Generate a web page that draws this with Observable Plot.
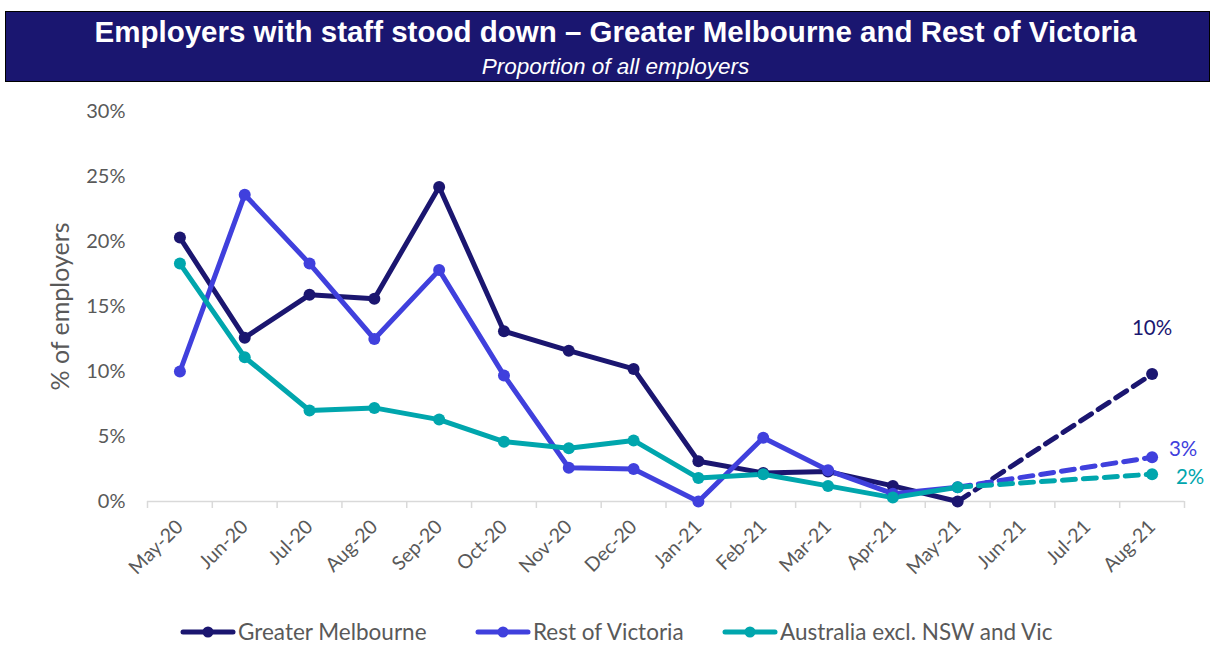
<!DOCTYPE html>
<html><head><meta charset="utf-8">
<script src="https://cdn.jsdelivr.net/npm/d3@7"></script>
<script src="https://cdn.jsdelivr.net/npm/@observablehq/plot@0.6"></script>
<style>
body{margin:0;background:#fff;width:1215px;height:651px;overflow:hidden;position:relative;font-family:Lato,"Open Sans",sans-serif;}
#title{position:absolute;left:5px;top:11px;width:1205px;height:71px;background:#1a1670;border:1px solid #000;box-sizing:border-box;color:#fff;text-align:center;font-family:"Liberation Sans",Arial,sans-serif;}
#title .t{font-weight:bold;font-size:29.5px;line-height:29px;position:absolute;left:16px;right:0;top:5px;white-space:nowrap;}
#title .s{font-style:italic;font-size:22.5px;line-height:22px;position:absolute;left:16px;right:0;top:44px;}
#chart{position:absolute;left:0;top:90px;}
.leg{position:absolute;top:618px;display:flex;align-items:center;font-size:22.5px;color:#595959;}
.leg svg{margin-right:2px;}
</style>
</head><body>
<div id="title"><div class="t">Employers with staff stood down – Greater Melbourne and Rest of Victoria</div><div class="s">Proportion of all employers</div></div>
<div id="chart"></div>
<div id="legend"></div>
<script>
const months = ["May-20","Jun-20","Jul-20","Aug-20","Sep-20","Oct-20","Nov-20","Dec-20","Jan-21","Feb-21","Mar-21","Apr-21","May-21","Jun-21","Jul-21","Aug-21"];
const seriesNames = ["Greater Melbourne","Rest of Victoria","Australia excl. NSW and Vic"];
const seriesColors = ["#1b1670","#4040dd","#00a6ad"];
const melbourne = [20.3,12.6,15.9,15.6,24.2,13.1,11.6,10.2,3.1,2.2,2.3,1.2,0.0,null,null,9.8];
const restVic   = [10.0,23.6,18.3,12.5,17.8,9.7,2.6,2.5,0.0,4.9,2.4,0.6,1.1,null,null,3.4];
const ausExcl   = [18.3,11.1,7.0,7.2,6.3,4.6,4.1,4.7,1.8,2.1,1.2,0.3,1.1,null,null,2.1];
const endLabels = ["10%","3%","2%"];
const yTicks = [0,5,10,15,20,25,30];
const actualEnd = "May-21";
const forecastMonth = "Aug-21";

const allValues = [melbourne, restVic, ausExcl];
const solid = [], dashed = [], dots = [], ends = [];
const cutIdx = months.indexOf(actualEnd);
allValues.forEach((vals, s) => {
  vals.forEach((v, i) => {
    if (v == null) return;
    const row = {series: seriesNames[s], month: months[i], value: v};
    if (i <= cutIdx) solid.push(row);
    if (i >= cutIdx) dashed.push(row);
    dots.push(row);
    if (months[i] === forecastMonth) ends.push({...row, label: endLabels[s]});
  });
});

const W = 1215, mL = 147, mR = 31;
const step = (W - mL - mR) / months.length;
const color = {domain: seriesNames, range: seriesColors};

const plot = Plot.plot({
  width: W, height: 511,
  marginLeft: mL, marginRight: mR, marginTop: 21, marginBottom: 100,
  style: {fontFamily: "Lato, 'Open Sans', sans-serif", color: "#595959", background: "transparent"},
  x: {type: "point", domain: months, padding: 0.5, round: false},
  y: {domain: [0, 30]},
  color,
  marks: [
    Plot.ruleY([0], {stroke: "#d9d9d9", strokeWidth: 1.5}),
    Plot.ruleX(months, {x: d => d, dx: -step/2, y1: 0, y2: 0, insetBottom: -7, stroke: "#d9d9d9", strokeWidth: 1.5}),
    Plot.ruleX([months[months.length-1]], {x: d => d, dx: step/2, y1: 0, y2: 0, insetBottom: -7, stroke: "#d9d9d9", strokeWidth: 1.5}),
    Plot.axisY({ticks: yTicks, tickFormat: d => d + "%", tickSize: 0, tickPadding: 22, fontSize: 20, label: null}),
    Plot.axisX({tickSize: 0, tickRotate: -45, tickPadding: 22, fontSize: 19.5, label: null}),
    Plot.text(["% of employers"], {frameAnchor: "left", textAnchor: "middle", rotate: -90, dx: -87, fontSize: 25, fill: "#595959"}),
    Plot.line(dashed, {x: "month", y: "value", z: "series", stroke: "series", strokeWidth: 5, strokeDasharray: "13,8"}),
    Plot.line(solid, {x: "month", y: "value", z: "series", stroke: "series", strokeWidth: 5}),
    Plot.dot(dots, {x: "month", y: "value", fill: "series", r: 6}),
    Plot.text(ends.filter(d => d.series === seriesNames[0]), {x: "month", y: "value", text: "label", fill: seriesColors[0], dy: -46, fontSize: 20.5}),
    Plot.text(ends.filter(d => d.series === seriesNames[1]), {x: "month", y: "value", text: "label", fill: seriesColors[1], dx: 31, dy: -8, fontSize: 20.5}),
    Plot.text(ends.filter(d => d.series === seriesNames[2]), {x: "month", y: "value", text: "label", fill: seriesColors[2], dx: 38, dy: 3, fontSize: 20.5})
  ]
});
document.getElementById("chart").appendChild(plot);

const legX = [180, 475, 722];
const leg = document.getElementById("legend");
seriesNames.forEach((n, i) => {
  const d = document.createElement("div");
  d.className = "leg";
  d.style.left = legX[i] + "px";
  d.innerHTML = `<svg width="56" height="24"><line x1="3" x2="53" y1="12" y2="12" stroke="${seriesColors[i]}" stroke-width="5" stroke-linecap="round"/><circle cx="28" cy="12" r="5.5" fill="${seriesColors[i]}"/></svg><span>${n}</span>`;
  leg.appendChild(d);
});
</script>
</body></html>
